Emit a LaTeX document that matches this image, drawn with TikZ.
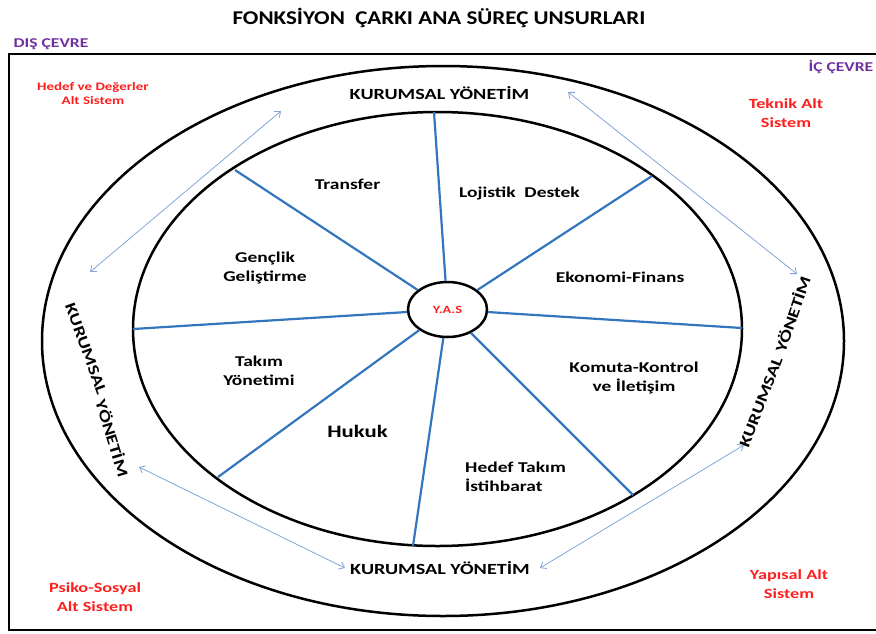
\documentclass[tikz,border=0pt]{standalone}
\usepackage{fontspec}
\setmainfont{Carlito}
\newfontfamily\cf[FakeStretch=1.3]{Carlito}
\newfontfamily\tf[FakeStretch=1.18]{Carlito}
\usetikzlibrary{arrows.meta,shapes.geometric}
\definecolor{spokeblue}{RGB}{52,118,190}
\definecolor{arrowblue}{RGB}{130,165,215}
\definecolor{purp}{RGB}{112,48,160}
\definecolor{redlab}{RGB}{255,30,30}
\begin{document}
\begin{tikzpicture}[x=1pt,y=-1pt,
  lab/.style={font=\cf\bfseries\fontsize{15}{19}\selectfont, align=center, inner sep=0pt, text=black},
  ky/.style={font=\cf\bfseries\fontsize{15.5}{18}\selectfont, inner sep=0pt, text=black},
  sub/.style={font=\cf\bfseries\fontsize{14}{19}\selectfont, text=redlab, align=center, inner sep=0pt},
  env/.style={font=\cf\bfseries\fontsize{13.5}{16}\selectfont, text=purp, inner sep=0pt},
  spoke/.style={draw=spokeblue, line width=2.2pt},
  rel/.style={draw=arrowblue, line width=0.8pt, {Straight Barb[length=5pt,width=8pt]}-{Straight Barb[length=5pt,width=8pt]}},
  ring/.style={draw=black, line width=2.5pt}]
\useasboundingbox (0,0) rectangle (876,633);
% frame
\draw[line width=2pt] (880,54) -- (9,54) -- (9,630) -- (880,630);
% title and environment labels
\node[font=\tf\bfseries\fontsize{19.5}{22}\selectfont, inner sep=0pt, text=black] (title) at (439,18) {FONKSİYON\ \ ÇARKI ANA SÜREÇ UNSURLARI};
\node[env] (dis) at (51,44) {DIŞ ÇEVRE};
\node[env] (ic) at (841,67) {İÇ ÇEVRE};
% subsystem labels
\node[sub, font=\cf\bfseries\fontsize{11.5}{14}\selectfont] (hdf) at (93,94) {Hedef ve Değerler\\Alt Sistem};
\node[sub] (tek) at (786,113) {Teknik Alt\\Sistem};
\node[sub] (psk) at (95,597) {Psiko-Sosyal\\Alt Sistem};
\node[sub] (yap) at (789,584) {Yapısal Alt\\Sistem};
% rings
\draw[ring] (443,341) ellipse [x radius=401, y radius=275];
\draw[ring] (437.5,329) ellipse [x radius=304.5, y radius=217];
% hub and spokes
\node[ellipse, draw=black, line width=2.5pt, fill=white, minimum width=79pt, minimum height=55pt, inner sep=0pt,
      font=\cf\bfseries\fontsize{11}{12}\selectfont, text=redlab] (yas) at (447.5,309.5) {Y.A.S};
\coordinate (s1) at (434,112);
\coordinate (s2) at (652,176);
\coordinate (s3) at (742,328);
\coordinate (s4) at (633,495);
\coordinate (s5) at (413,546);
\coordinate (s6) at (218,477);
\coordinate (s7) at (133,329);
\coordinate (s8) at (235,170);
\foreach \s in {s1,s2,s3,s4,s5,s6,s7,s8} \draw[spoke] (yas) -- (\s);
% segment labels
\node[lab] (tr) at (347.5,184) {Transfer};
\node[lab] (lj) at (519.5,193) {Lojistik\ \ Destek};
\node[lab] (gc) at (265,268) {Gençlik\\Geliştirme};
\node[lab] (ek) at (620,277) {Ekonomi-Finans};
\node[lab] (tk) at (259,371) {Takım\\Yönetimi};
\node[lab] (km) at (634,378) {Komuta-Kontrol\\ve İletişim};
\node[lab, font=\cf\bfseries\fontsize{17.5}{20}\selectfont] (hk) at (357.5,431) {Hukuk};
\node[lab, align=left, anchor=west] (ht) at (465,477) {Hedef Takım\\İstihbarat};
% management labels
\node[ky] (kt) at (439.5,93) {KURUMSAL YÖNETİM};
\node[ky] (kb) at (440,568) {KURUMSAL YÖNETİM};
\node[ky, rotate=-70] (kl1) at (86,349) {KURUMSAL};
\node[ky, rotate=-73] (kl2) at (113,438) {YÖNETİM};
\node[ky, rotate=69] (kr1) at (761,402) {KURUMSAL};
\node[ky, rotate=71] (kr2) at (792,314) {YÖNETİM};
% relation arrows
\coordinate (a1) at (90,272);  \coordinate (b1) at (281,111);
\coordinate (a2) at (568,92);  \coordinate (b2) at (797,274);
\coordinate (a3) at (139,467); \coordinate (b3) at (345,568);
\coordinate (a4) at (744,445); \coordinate (b4) at (540,568);
\draw[rel] (a1) -- (b1);
\draw[rel] (a2) -- (b2);
\draw[rel] (a3) -- (b3);
\draw[rel] (a4) -- (b4);
\end{tikzpicture}
\end{document}
